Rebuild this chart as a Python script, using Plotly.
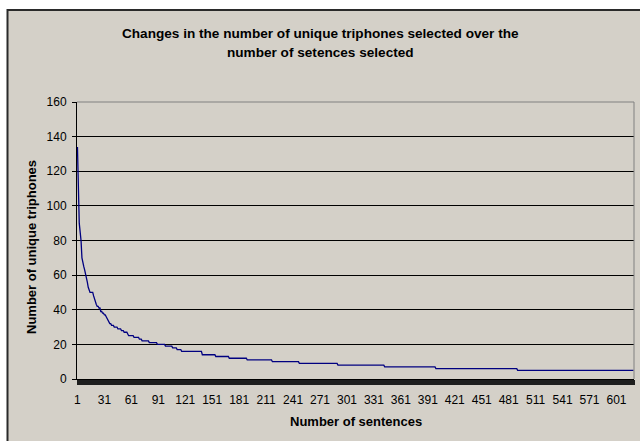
import plotly.graph_objects as go

# Step values of unique triphones and how many consecutive sentences keep each value
step_values = [134, 100, 90, 85, 80, 70, 66, 65, 63, 61, 59, 56, 53, 51, 50, 48, 46, 44, 43,
               42, 41, 39, 38, 37, 36, 35, 34, 33, 32, 31, 30, 29, 28, 27, 26, 25, 24, 23,
               22, 21, 20, 19, 18, 17, 16, 14, 13, 12, 11, 10, 9, 8, 7, 6, 5]
step_counts = [1, 1, 1, 1, 1, 1, 1, 1, 1, 1, 1, 1, 1, 1, 4, 1, 1, 1, 1,
               2, 2, 2, 2, 2, 1, 1, 1, 1, 2, 3, 4, 4, 3, 4, 1, 6, 6, 3,
               8, 9, 9, 8, 5, 5, 23, 15, 15, 20, 28, 30, 43, 52, 57, 91, 130]

x_tick_labels = ["1", "31", "61", "91", "121", "151", "181", "211", "241", "271", "301",
                 "331", "361", "391", "421", "451", "481", "511", "541", "571", "601"]

title_lines = ["Changes in the number of unique triphones selected over the",
               "number of setences selected"]
x_title = "Number of sentences"
y_title = "Number of unique triphones"

triphones = []
for v, c in zip(step_values, step_counts):
    triphones.extend([v] * c)
sentences = list(range(1, len(triphones) + 1))

W, H = 640, 441
L, R, T, B = 77, 634, 102, 379
pw, ph = R - L, B - T

def px(x):
    return (x - L) / pw

def py(y):
    return (B - y) / ph

fig = go.Figure()
fig.add_trace(go.Scatter(x=sentences, y=triphones, mode="lines",
                         line=dict(color="#000080", width=1.3),
                         hoverinfo="x+y", showlegend=False))

font = "Liberation Sans, Arial, sans-serif"

annotations = [
    dict(text="<b>%s</b>" % title_lines[0], x=px(320), y=py(33), xref="paper", yref="paper",
         xanchor="center", yanchor="middle", showarrow=False,
         font=dict(family=font, size=13.6, color="black")),
    dict(text="<b>%s</b>" % title_lines[1], x=px(320), y=py(52), xref="paper", yref="paper",
         xanchor="center", yanchor="middle", showarrow=False,
         font=dict(family=font, size=13.6, color="black")),
    dict(text="<b>%s</b>" % x_title, x=px(356), y=py(421), xref="paper", yref="paper",
         xanchor="center", yanchor="middle", showarrow=False,
         font=dict(family=font, size=13, color="black")),
    dict(text="<b>%s</b>" % y_title, x=px(31), y=py(247), xref="paper", yref="paper",
         xanchor="center", yanchor="middle", showarrow=False, textangle=-90,
         font=dict(family=font, size=13, color="black")),
]

fig.update_layout(
    width=W, height=H,
    margin=dict(l=L, r=W - R, t=T, b=H - B, pad=0),
    paper_bgcolor="white",
    plot_bgcolor="#c0c0c0",
    font=dict(family=font, size=12, color="black"),
    xaxis=dict(range=[0.5, len(triphones) + 0.5], showgrid=False, zeroline=False,
               tickmode="array", tickvals=[int(t) for t in x_tick_labels], ticktext=x_tick_labels,
               ticks="outside", ticklen=10, tickcolor="rgba(0,0,0,0)",
               showline=True, linecolor="black", linewidth=1,
               minor=dict(ticks="outside", ticklen=5, tickwidth=0.55, tickcolor="#1e1e1e",
                          tickmode="linear", tick0=0.5, dtick=1, showgrid=False),
               tickfont=dict(family=font, size=12, color="black")),
    yaxis=dict(range=[0, 160], dtick=20, tick0=0, showgrid=True, gridcolor="black", gridwidth=1,
               zeroline=False, ticks="outside", ticklen=4, tickcolor="black",
               ticklabelstandoff=3,
               showline=True, linecolor="black", linewidth=1,
               tickfont=dict(family=font, size=12, color="black")),
    annotations=annotations,
    shapes=[
        dict(type="rect", xref="paper", yref="paper", layer="below",
             x0=px(7.5), x1=px(660), y0=py(460), y1=py(10),
             fillcolor="#d4d0c8", line=dict(color="#2a2a2a", width=2)),
        dict(type="line", xref="paper", yref="paper", x0=0, x1=1, y0=1, y1=1,
             line=dict(color="#808080", width=1)),
        dict(type="line", xref="paper", yref="paper", x0=1, x1=1, y0=0, y1=1,
             line=dict(color="#808080", width=1)),
    ],
)

fig.write_html("out.html", config={"displayModeBar": False},
               post_script="document.body.style.margin='0';document.body.style.overflow='hidden';")
